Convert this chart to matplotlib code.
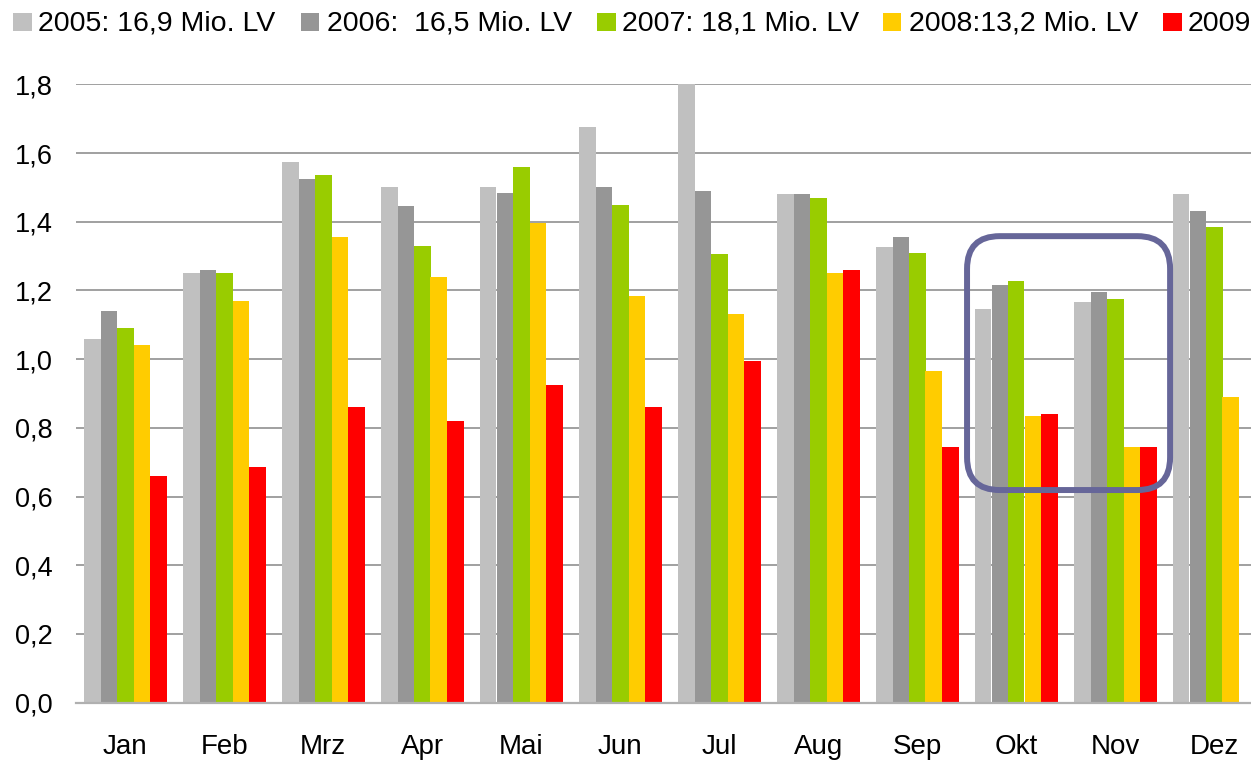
import numpy as np
import matplotlib
matplotlib.use("Agg")
import matplotlib.pyplot as plt
from matplotlib.patches import FancyBboxPatch, Rectangle

plt.rcParams['font.family'] = ['Liberation Sans', 'DejaVu Sans']

months = ["Jan", "Feb", "Mrz", "Apr", "Mai", "Jun", "Jul", "Aug", "Sep", "Okt", "Nov", "Dez"]
series_labels = ["2005: 16,9 Mio. LV", "2006:  16,5 Mio. LV", "2007: 18,1 Mio. LV",
                 "2008:13,2 Mio. LV", "2009"]
v2005 = [1.06, 1.25, 1.575, 1.50, 1.50, 1.675, 1.80, 1.48, 1.325, 1.145, 1.165, 1.48]
v2006 = [1.14, 1.26, 1.525, 1.445, 1.485, 1.50, 1.49, 1.48, 1.355, 1.215, 1.195, 1.43]
v2007 = [1.09, 1.25, 1.535, 1.33, 1.56, 1.45, 1.305, 1.47, 1.31, 1.228, 1.175, 1.385]
v2008 = [1.04, 1.17, 1.355, 1.24, 1.395, 1.185, 1.13, 1.25, 0.965, 0.835, 0.745, 0.89]
v2009 = [0.66, 0.685, 0.86, 0.82, 0.925, 0.86, 0.995, 1.26, 0.745, 0.84, 0.745, np.nan]
ytick_values = [0.0, 0.2, 0.4, 0.6, 0.8, 1.0, 1.2, 1.4, 1.6, 1.8]
ytick_labels = ["0,0", "0,2", "0,4", "0,6", "0,8", "1,0", "1,2", "1,4", "1,6", "1,8"]

series = [v2005, v2006, v2007, v2008, v2009]
colors = ["#C0C0C0", "#969696", "#99CC00", "#FFCC00", "#FF0000"]

W, H = 1251, 761
fig = plt.figure(figsize=(W / 100, H / 100), dpi=100)
ax_left, ax_right = 75.75, 1263.75
ax_bottom, ax_top = 702.7, 84.3
ax = fig.add_axes([ax_left / W, (H - ax_bottom) / H,
                   (ax_right - ax_left) / W, (ax_bottom - ax_top) / H])

x = np.arange(len(months))
bw = 1 / 6
for i, (vals, c) in enumerate(zip(series, colors)):
    ax.bar(x + (i - 2) * bw, vals, width=bw, color=c, zorder=3, linewidth=0, clip_on=False)

ax.set_xlim(-0.5, len(months) - 0.5)
ax.set_ylim(0, 1.8)
ax.set_yticks(ytick_values)
ax.set_yticklabels(ytick_labels)
ax.set_xticks(x)
ax.set_xticklabels(months)
ax.tick_params(axis='y', length=0, pad=16.5, labelsize=19.5, colors='black')
ax.tick_params(axis='x', length=0, pad=22.5, labelsize=20, colors='black')
ax.yaxis.grid(True, color='#A0A0A0', linewidth=1.4, zorder=0)
ax.set_axisbelow(True)
for s in ['left', 'right', 'top']:
    ax.spines[s].set_visible(False)
ax.spines['bottom'].set_color('#B0B0B0')
ax.spines['bottom'].set_linewidth(1.6)
ax.spines['bottom'].set_zorder(4)

# highlight box around Okt / Nov
box = FancyBboxPatch((8.503, 0.619), 10.554 - 8.503, 1.358 - 0.619,
                     boxstyle="round,pad=0,rounding_size=0.33",
                     mutation_aspect=99 / 343.6,
                     facecolor='none', edgecolor='#666699', linewidth=4.3,
                     zorder=5, clip_on=False)
ax.add_patch(box)

# legend across the top
sq_x = [13, 301, 597, 883, 1163]
txt_x = [38, 327, 622, 909, 1188]
sq_size = 18.5
sq_top = 12.5
for sx, tx, lab, c in zip(sq_x, txt_x, series_labels, colors):
    fig.patches.append(Rectangle((sx / W, 1 - (sq_top + sq_size) / H), sq_size / W, sq_size / H,
                                 transform=fig.transFigure, facecolor=c, edgecolor='none'))
    fig.text(tx / W, 1 - 30.7 / H, lab, fontsize=20.5, va='baseline', ha='left', color='black')

fig.savefig("out.png", dpi=100)
